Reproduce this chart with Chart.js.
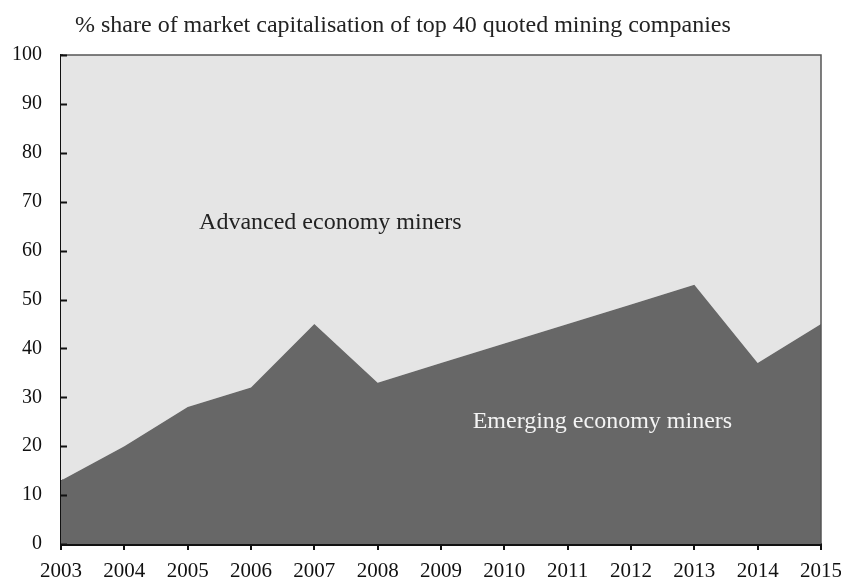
<!DOCTYPE html>
<html lang="en">
<head>
    <meta charset="UTF-8">
    <title>Mining market capitalisation</title>
    <script src="https://cdn.jsdelivr.net/npm/chart.js"></script>
    <style>
        * { margin: 0; padding: 0; box-sizing: border-box; }
        body { background: #fff; }
        .wrap { width: 841px; height: 578px; position: relative; }
    </style>
</head>
<body>
    <div class="wrap">
        <canvas id="areaChart"></canvas>
    </div>

    <script>
        // data
        const years = ['2003', '2004', '2005', '2006', '2007', '2008', '2009',
                       '2010', '2011', '2012', '2013', '2014', '2015'];
        const emerging = [13, 20, 28, 32, 45, 33, 37, 41, 45, 49, 53, 37, 45];
        const advanced = emerging.map(v => 100 - v);
        const yTicks = [0, 10, 20, 30, 40, 50, 60, 70, 80, 90, 100];

        const titleText = '% share of market capitalisation of top 40 quoted mining companies';
        const serif = '"Liberation Serif", "Times New Roman", serif';

        // frame, inner y ticks, title and area labels
        const extras = {
            id: 'extras',
            afterDatasetsDraw(chart) {
                const { ctx, chartArea: a, scales } = chart;
                ctx.save();
                // top and right frame
                ctx.strokeStyle = '#555';
                ctx.lineWidth = 1.5;
                ctx.beginPath();
                ctx.moveTo(a.left, a.top);
                ctx.lineTo(a.right, a.top);
                ctx.lineTo(a.right, a.bottom);
                ctx.stroke();
                // y ticks pointing into the plot
                ctx.strokeStyle = '#111';
                ctx.lineWidth = 2;
                yTicks.forEach(t => {
                    const y = Math.round(scales.y.getPixelForValue(t)) + 0.5;
                    ctx.beginPath();
                    ctx.moveTo(a.left, y);
                    ctx.lineTo(a.left + 6, y);
                    ctx.stroke();
                });
                // labels inside the areas
                ctx.font = '24px ' + serif;
                ctx.textBaseline = 'middle';
                ctx.textAlign = 'left';
                ctx.fillStyle = '#222';
                ctx.fillText('Advanced economy miners',
                    scales.x.getPixelForValue(2.18), scales.y.getPixelForValue(65.8));
                ctx.fillStyle = '#f4f4f4';
                ctx.fillText('Emerging economy miners',
                    scales.x.getPixelForValue(6.5), scales.y.getPixelForValue(25.0));
                // title
                ctx.fillStyle = '#222';
                ctx.fillText(titleText, 75, 26);
                ctx.restore();
            }
        };

        const ctx = document.getElementById('areaChart').getContext('2d');
        new Chart(ctx, {
            type: 'line',
            data: {
                labels: years,
                datasets: [{
                    label: 'Emerging economy miners',
                    data: emerging,
                    backgroundColor: '#676767',
                    borderWidth: 0,
                    pointRadius: 0,
                    fill: 'origin',
                    tension: 0
                }, {
                    label: 'Advanced economy miners',
                    data: advanced,
                    backgroundColor: '#e5e5e5',
                    borderWidth: 0,
                    pointRadius: 0,
                    fill: '-1',
                    tension: 0
                }]
            },
            options: {
                responsive: true,
                maintainAspectRatio: false,
                animation: false,
                layout: { padding: { top: 55, right: 20, left: 0, bottom: 0 } },
                plugins: {
                    legend: { display: false },
                    tooltip: { enabled: false }
                },
                scales: {
                    x: {
                        offset: false,
                        grid: { drawOnChartArea: false, drawTicks: true, tickLength: 6, color: '#111', lineWidth: 2 },
                        border: { display: true, color: '#111', width: 3 },
                        ticks: {
                            color: '#111',
                            font: { family: serif, size: 21 },
                            padding: 9,
                            maxRotation: 0,
                            autoSkip: false
                        },
                        afterFit(scale) {
                            scale.height = 34;
                            scale.paddingLeft = 0;
                            scale.paddingRight = 0;
                        }
                    },
                    y: {
                        stacked: true,
                        min: 0,
                        max: 100,
                        afterBuildTicks(scale) { scale.ticks = yTicks.map(v => ({ value: v })); },
                        grid: { display: false, drawTicks: false },
                        border: { display: true, color: '#111', width: 3 },
                        ticks: {
                            color: '#111',
                            font: { family: serif, size: 20 },
                            padding: 19
                        },
                        afterFit(scale) { scale.width = 61; }
                    }
                }
            },
            plugins: [extras]
        });
    </script>
</body>
</html>
